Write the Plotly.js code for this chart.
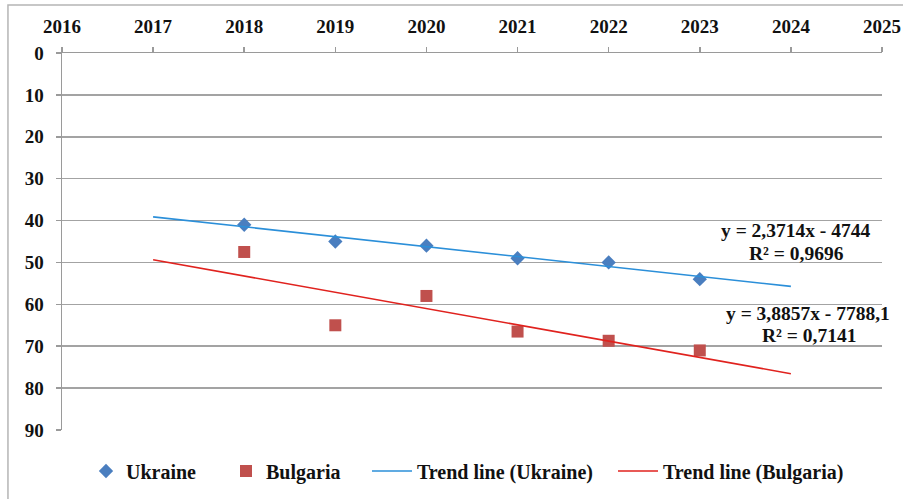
<!DOCTYPE html>
<html>
<head>
<meta charset="utf-8">
<script src="https://cdn.plot.ly/plotly-3.0.1.min.js"></script>
<style>
html,body{margin:0;padding:0;background:#fff;}
#chart{width:903px;height:499px;}
</style>
</head>
<body>
<div id="chart"></div>
<script>
// ---- data ----
var years = [2018, 2019, 2020, 2021, 2022, 2023];
var ukraine = [41, 45, 46, 49, 50, 54];
var bulgaria = [47.5, 65, 58, 66.5, 68.7, 71];

// trend lines (coefficients printed on the chart)
var trendYears = [2017, 2024];
var ukraineSlope = 2.3714, ukraineIntercept = -4744;
var bulgariaSlope = 3.8857, bulgariaIntercept = -7788.1;

var xTicks = [2016, 2017, 2018, 2019, 2020, 2021, 2022, 2023, 2024, 2025];
var yTicks = [0, 10, 20, 30, 40, 50, 60, 70, 80, 90];

var seriesNames = ['Ukraine', 'Bulgaria', 'Trend line (Ukraine)', 'Trend line (Bulgaria)'];
var eqUkraine = ['y = 2,3714x - 4744', 'R² = 0,9696'];
var eqBulgaria = ['y = 3,8857x - 7788,1', 'R² = 0,7141'];

function trend(slope, intercept) {
  return trendYears.map(function (x) { return slope * x + intercept; });
}

var FONT = 'Liberation Serif, Times New Roman, serif';
var TXT = '#111111';

var traces = [
  {
    x: years, y: ukraine, name: seriesNames[0], type: 'scatter', mode: 'markers',
    marker: {symbol: 'diamond', size: 11, color: '#4A7EBF', line: {width: 0}},
    legend: 'legend'
  },
  {
    x: years, y: bulgaria, name: seriesNames[1], type: 'scatter', mode: 'markers',
    marker: {symbol: 'square', size: 12, color: '#C0504D', line: {width: 0}},
    legend: 'legend2'
  },
  {
    x: trendYears, y: trend(ukraineSlope, ukraineIntercept), name: seriesNames[2],
    type: 'scatter', mode: 'lines', line: {color: '#2B8FD9', width: 1.6},
    legend: 'legend3'
  },
  {
    x: trendYears, y: trend(bulgariaSlope, bulgariaIntercept), name: seriesNames[3],
    type: 'scatter', mode: 'lines', line: {color: '#E0221E', width: 1.6},
    legend: 'legend4'
  }
];

function legendAt(px, itemw) {
  return {
    orientation: 'h', xref: 'container', yref: 'container',
    x: px / 903, y: 1 - 471 / 499, xanchor: 'left', yanchor: 'middle',
    font: {family: FONT, size: 20, color: TXT, weight: 'bold'},
    bgcolor: 'rgba(0,0,0,0)', borderwidth: 0, itemwidth: itemw
  };
}

var annFont = {family: FONT, size: 19.5, color: TXT, weight: 'bold'};
var layout = {
  width: 903, height: 499,
  margin: {l: 62, r: 21, t: 53, b: 69},
  paper_bgcolor: '#ffffff', plot_bgcolor: '#ffffff',
  showlegend: true,
  font: {family: FONT, size: 19, color: TXT, weight: 'bold'},
  xaxis: {
    side: 'top', range: [2016, 2025], tickvals: xTicks, ticktext: xTicks.map(String),
    showgrid: false, zeroline: false, showline: true, linecolor: '#9A9A9A', linewidth: 1.5,
    ticks: 'outside', ticklen: 5, tickcolor: '#9A9A9A', tickwidth: 1.5,
    tickfont: {family: FONT, size: 19, color: TXT, weight: 'bold'},
    ticklabelstandoff: 6
  },
  yaxis: {
    range: [90, 0], tickvals: yTicks, ticktext: yTicks.map(String),
    showgrid: true, gridcolor: '#A3A3A3', gridwidth: 1.5, zeroline: false,
    showline: true, linecolor: '#9A9A9A', linewidth: 1.5,
    ticks: 'outside', ticklen: 5, tickcolor: '#9A9A9A', tickwidth: 1.5,
    tickfont: {family: FONT, size: 19, color: TXT, weight: 'bold'},
    ticklabelstandoff: 8
  },
  legend: legendAt(86, 30),
  legend2: legendAt(226, 30),
  legend3: legendAt(367, 40),
  legend4: legendAt(613, 40),
  annotations: [
    {xref: 'x', yref: 'y', x: 2024.05, y: 42.4, text: eqUkraine[0], showarrow: false, font: annFont},
    {xref: 'x', yref: 'y', x: 2024.06, y: 47.8, text: eqUkraine[1], showarrow: false, font: annFont},
    {xref: 'x', yref: 'y', x: 2024.19, y: 62.1, text: eqBulgaria[0], showarrow: false, font: annFont},
    {xref: 'x', yref: 'y', x: 2024.2, y: 67.5, text: eqBulgaria[1], showarrow: false, font: annFont}
  ],
  shapes: [
    {type: 'path', xref: 'paper', yref: 'paper',
     path: 'M -0.0659 -0.25 L -0.0659 1.1273 L 1.05 1.1273',
     line: {color: '#B5B5B5', width: 1.5}}
  ]
};

Plotly.newPlot('chart', traces, layout, {displayModeBar: false, staticPlot: true});
</script>
</body>
</html>
